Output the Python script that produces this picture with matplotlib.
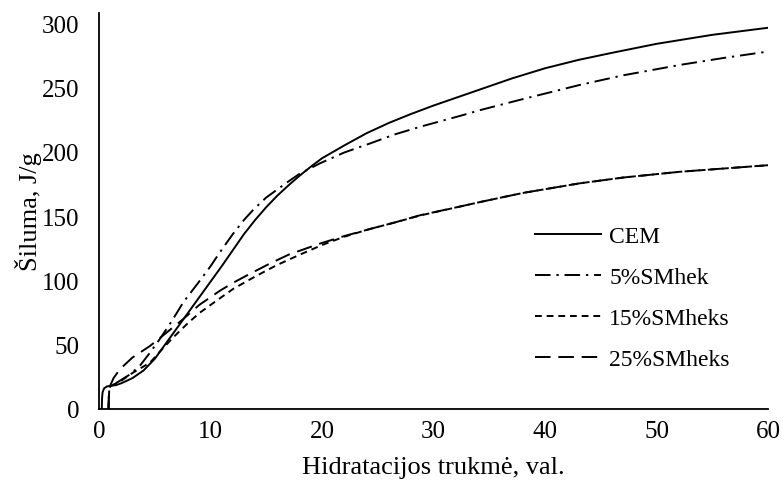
import matplotlib
matplotlib.use("Agg")
import matplotlib.pyplot as plt

plt.rcParams['font.family'] = ['Liberation Serif', 'DejaVu Serif']

# hydration time (h) and heat (J/g)
t_cem = [0.25, 0.27, 0.32, 0.45, 0.7, 1.0, 1.5, 2, 3, 4, 5, 6, 7, 8, 9, 10, 11, 12, 13, 14,
         15, 16, 17, 18, 19, 20, 22, 24, 26, 28, 30, 32, 34, 37, 40, 43, 46, 50, 55, 60]
cem = [0, 8, 13, 16, 17.5, 18, 18.5, 20, 24, 30, 39, 51, 63, 75, 87, 99, 111, 123.5, 136, 147,
       157, 166, 174, 181.5, 188.5, 195, 205, 214.5, 222.5, 229.5, 236, 242, 248, 257, 265,
       271.5, 277, 284, 291, 296.5]

t_5 = [0.85, 0.88, 0.92, 1.0, 1.3, 1.88, 2.8, 3.68, 4.5, 5.47, 6.5, 7.56, 9.06, 10, 10.85, 12,
       13, 13.84, 15, 16.83, 18, 19.8, 22, 24.3, 26.5, 28.8, 32.4, 34.2, 38, 43.1, 47, 52.1,
       56, 60]
sm5 = [0, 9, 15, 17.5, 19, 22, 27, 33.8, 43, 54.6, 68, 83, 100, 111, 122, 136,
       147, 155, 164.5, 176, 183, 191, 199.5, 206.5, 213.5, 219.5, 228, 232.5, 241, 252,
       259.5, 267.6, 273, 278]

t_15 = [0.85, 0.88, 0.92, 1.0, 1.3, 2, 3, 4.57, 5.5, 6.67, 8, 9.06, 10.5, 12.05, 14, 15.9,
        18, 20, 22, 24.3, 26.5, 28.8, 32.4, 34.2, 38, 43.1, 47, 52.1, 56, 60]
sm15 = [0, 9, 15, 17.5, 19, 22, 28, 36, 45, 55.8, 67, 75, 84, 93.5, 103, 111.7,
        120, 127.5, 134, 140, 145, 150.5, 157.5, 161, 168, 175.5, 180, 184.5, 187, 189.6]

t_25 = [0.85, 0.88, 0.92, 1.0, 1.3, 1.88, 3, 4.57, 6, 7.56, 9, 10.85, 12, 13.5, 15.3, 17,
        19.8, 22, 24.3, 26.5, 28.8, 32.4, 34.2, 38, 43.1, 47, 52.1, 56, 60]
sm25 = [0, 9, 15, 18, 24, 31, 40, 49, 59, 70, 81, 92, 98, 105, 113, 120,
        128.6, 134.5, 140, 145, 150.7, 157.5, 161, 168, 175.5, 180, 184.5, 187, 189.6]

fig = plt.figure(figsize=(7.84, 4.89), dpi=100)
ax = fig.add_axes([0.1263, 0.1616, 0.8533, 0.8098])

lw = 1.4
ax.plot(t_cem, cem, color='black', lw=lw, label='CEM')
ax.plot(t_5, sm5, color='black', lw=lw, dashes=(8, 3, 1.2, 3), label='5%SMhek')
ax.plot(t_15, sm15, color='black', lw=lw, dashes=(3.5, 2.5), label='15%SMheks')
ax.plot(t_25, sm25, color='black', lw=lw, dashes=(8, 4), label='25%SMheks')

ax.set_xlim(0, 60)
ax.set_ylim(0, 308)
ax.set_xticks([0, 10, 20, 30, 40, 50, 60])
ax.set_yticks([0, 50, 100, 150, 200, 250, 300])
ax.tick_params(length=0, labelsize=18)
ax.tick_params(axis='x', pad=8)
ax.tick_params(axis='y', pad=14)
for s in ['top', 'right']:
    ax.spines[s].set_visible(False)
ax.spines['left'].set_linewidth(1.3)
ax.spines['bottom'].set_linewidth(1.3)

ax.set_xlabel('Hidratacijos trukmė, val.', fontsize=19)
ax.set_ylabel('Šiluma, J/g', fontsize=19)
ax.xaxis.set_label_coords(0.5, -0.118)
ax.yaxis.set_label_coords(-0.085, 0.5)

ax.legend(loc='lower right', bbox_to_anchor=(0.975, 0.045), frameon=False, fontsize=17,
          handlelength=2.8, handletextpad=0.35, labelspacing=0.82)

fig.savefig('out.png', dpi=100)
